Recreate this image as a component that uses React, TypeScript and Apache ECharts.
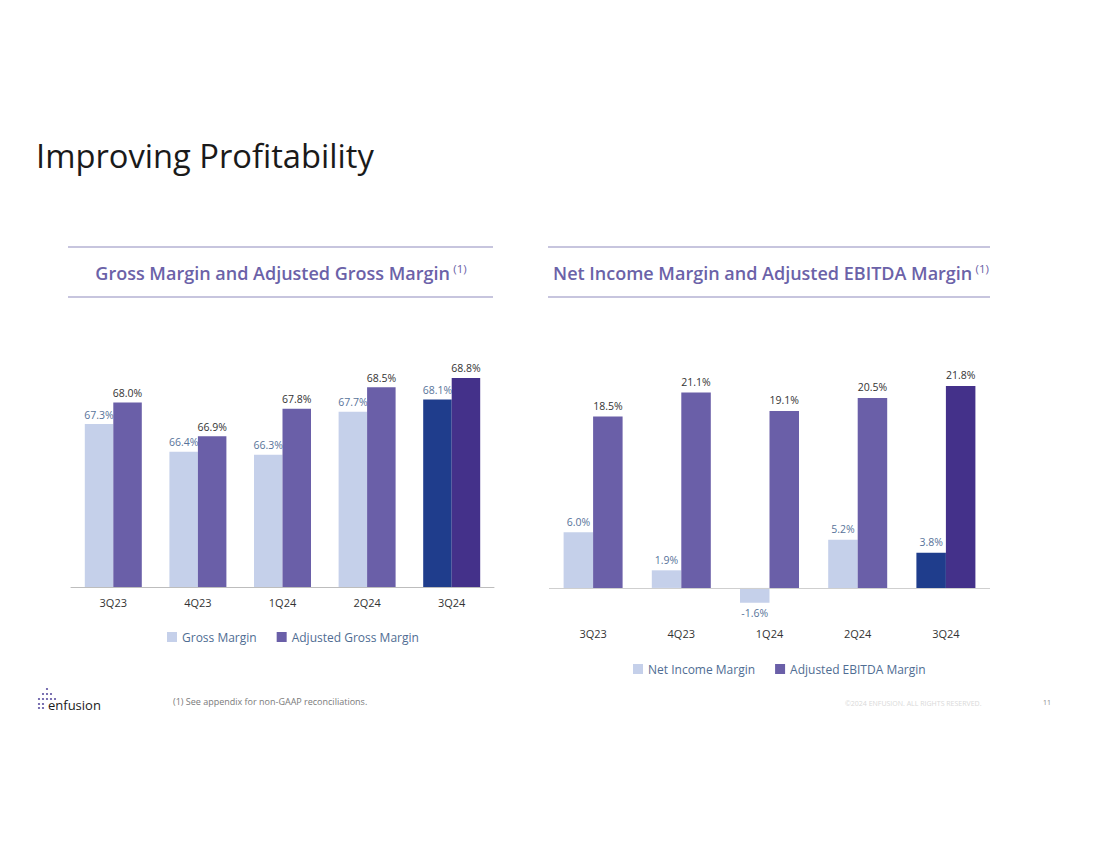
import React, { useEffect, useRef } from "react";
import * as echarts from "echarts";

const quarters = ["3Q23", "4Q23", "1Q24", "2Q24", "3Q24"];
const grossMargin = [67.3, 66.4, 66.3, 67.7, 68.1];
const adjGrossMargin = [68.0, 66.9, 67.8, 68.5, 68.8];
const netIncomeMargin = [6.0, 1.9, -1.6, 5.2, 3.8];
const adjEbitdaMargin = [18.5, 21.1, 19.1, 20.5, 21.8];

const FONT = "'Open Sans', 'Noto Sans', sans-serif";
const LIGHT = "#c5d0ea";
const PURPLE = "#6a5fa8";
const HL_LIGHT = "#1f3d8c";
const HL_PURPLE = "#44318a";
const LABEL_BLUE = "#58739a";
const HEADER = "#6b62a8";
const RULE = "#8f8bbd";

function colored(vals: number[], base: string, hl: string, negBottom = false) {
  return vals.map((v, i) => ({
    value: v,
    itemStyle: { color: i === vals.length - 1 ? hl : base },
    label: negBottom && v < 0 ? { position: "bottom" as const } : undefined,
  }));
}

export default function App() {
  const ref = useRef<HTMLDivElement>(null);
  useEffect(() => {
    document.body.style.margin = "0";
    const chart = echarts.init(ref.current!, null, { renderer: "svg" });
    const pct = (p: any) => Number(p.value).toFixed(1) + "%";
    const dots: any[] = [];
    const dotPos = [
      [47, 689], [47, 694], [43, 694], [51, 694], [39, 699], [43, 699], [47, 699], [51, 699], [55, 699],
      [43, 704], [39, 704], [43, 708], [39, 708],
    ];
    dotPos.forEach(([x, y]) =>
      dots.push({ type: "circle", shape: { cx: x, cy: y, r: 1.1 }, style: { fill: "#6a5fa8" } })
    );
    const headerRich = {
      a: { fontSize: 18, fontWeight: 600, fill: HEADER, color: HEADER, fontFamily: FONT, lineHeight: 22 },
      s: { fontSize: 11.5, fill: HEADER, color: HEADER, fontFamily: FONT, verticalAlign: "top", lineHeight: 22, padding: [0, 0, 10, 0] },
    };
    chart.setOption({
      animation: false,
      textStyle: { fontFamily: FONT },
      grid: [
        { left: 71, right: 1100 - 494, top: 341, bottom: 849 - 587 },
        { left: 549, right: 1100 - 990, top: 365.5, bottom: 849 - 625 },
      ],
      xAxis: [
        {
          type: "category",
          gridIndex: 0,
          data: quarters,
          axisLine: { show: true, lineStyle: { color: "#bdbdbd" } },
          axisTick: { show: false },
          axisLabel: { color: "#333", fontSize: 11, margin: 10, fontFamily: FONT },
        },
        {
          type: "category",
          gridIndex: 1,
          data: quarters,
          axisLine: { show: false, onZero: false },
          axisTick: { show: false },
          axisLabel: { color: "#333", fontSize: 11, margin: 3, fontFamily: FONT },
        },
      ],
      yAxis: [
        { type: "value", gridIndex: 0, min: 62, max: 70, show: false },
        { type: "value", gridIndex: 1, min: -4, max: 24, show: false },
      ],
      legend: [
        {
          data: ["Gross Margin", "Adjusted Gross Margin"],
          left: 162,
          top: 626,
          itemWidth: 10,
          itemHeight: 10,
          itemGap: 20,
          icon: "rect",
          textStyle: { color: "#4f6d93", fontSize: 12, fontFamily: FONT },
        },
        {
          data: ["Net Income Margin", "Adjusted EBITDA Margin"],
          left: 628,
          top: 658,
          itemWidth: 10,
          itemHeight: 10,
          itemGap: 20,
          icon: "rect",
          textStyle: { color: "#4f6d93", fontSize: 12, fontFamily: FONT },
        },
      ],
      series: [
        {
          name: "Gross Margin",
          type: "bar",
          xAxisIndex: 0,
          yAxisIndex: 0,
          barWidth: 28.5,
          barGap: "0%",
          itemStyle: { color: LIGHT },
          data: colored(grossMargin, LIGHT, HL_LIGHT),
          label: { show: true, position: "top", formatter: pct, color: LABEL_BLUE, fontSize: 10.5, distance: 4, fontFamily: FONT },
        },
        {
          name: "Adjusted Gross Margin",
          type: "bar",
          xAxisIndex: 0,
          yAxisIndex: 0,
          barWidth: 28.5,
          barGap: "0%",
          itemStyle: { color: PURPLE },
          data: colored(adjGrossMargin, PURPLE, HL_PURPLE),
          label: { show: true, position: "top", formatter: pct, color: "#333", fontSize: 10.5, distance: 4, fontFamily: FONT },
        },
        {
          name: "Net Income Margin",
          type: "bar",
          xAxisIndex: 1,
          yAxisIndex: 1,
          barWidth: 29.5,
          barGap: "0%",
          itemStyle: { color: LIGHT },
          data: colored(netIncomeMargin, LIGHT, HL_LIGHT, true),
          label: { show: true, position: "top", formatter: pct, color: LABEL_BLUE, fontSize: 10.5, distance: 5, fontFamily: FONT },
          markLine: {
            silent: true,
            symbol: ["none", "none"],
            label: { show: false },
            lineStyle: { color: "#cfcfcf", type: "solid", width: 1 },
            data: [{ yAxis: 0 }],
          },
        },
        {
          name: "Adjusted EBITDA Margin",
          type: "bar",
          xAxisIndex: 1,
          yAxisIndex: 1,
          barWidth: 29.5,
          barGap: "0%",
          itemStyle: { color: PURPLE },
          data: colored(adjEbitdaMargin, PURPLE, HL_PURPLE),
          label: { show: true, position: "top", formatter: pct, color: "#333", fontSize: 10.5, distance: 5, fontFamily: FONT },
        },
      ],
      graphic: [
        {
          type: "text",
          left: 36,
          top: 139,
          style: { text: "Improving Profitability", fill: "#1a1a1a", fontSize: 32.7, fontFamily: FONT },
        },
        { type: "line", shape: { x1: 68, y1: 247, x2: 493, y2: 247 }, style: { stroke: RULE, lineWidth: 1 } },
        { type: "line", shape: { x1: 68, y1: 297, x2: 493, y2: 297 }, style: { stroke: RULE, lineWidth: 1 } },
        { type: "line", shape: { x1: 548, y1: 247, x2: 990, y2: 247 }, style: { stroke: RULE, lineWidth: 1 } },
        { type: "line", shape: { x1: 548, y1: 297, x2: 990, y2: 297 }, style: { stroke: RULE, lineWidth: 1 } },
        {
          type: "text",
          x: 281,
          y: 273,
          style: {
            text: "{a|Gross Margin and Adjusted Gross Margin} {s|(1)}",
            align: "center",
            verticalAlign: "middle",
            rich: headerRich,
          },
        },
        {
          type: "text",
          x: 771,
          y: 273,
          style: {
            text: "{a|Net Income Margin and Adjusted EBITDA Margin} {s|(1)}",
            align: "center",
            verticalAlign: "middle",
            rich: headerRich,
          },
        },
        ...dots,
        {
          type: "text",
          left: 48,
          top: 698,
          style: { text: "enfusion", fill: "#1a1a1a", fontSize: 13, fontFamily: FONT },
        },
        {
          type: "text",
          left: 173,
          top: 697,
          style: { text: "(1) See appendix for non-GAAP reconciliations.", fill: "#7a7a7a", fontSize: 9, fontFamily: FONT },
        },
        {
          type: "text",
          left: 845,
          top: 700,
          style: { text: "©2024 ENFUSION. ALL RIGHTS RESERVED.", fill: "#d9d9d9", fontSize: 7, fontFamily: FONT },
        },
        {
          type: "text",
          left: 1043,
          top: 699,
          style: { text: "11", fill: "#888", fontSize: 7, fontFamily: FONT },
        },
      ],
    });
    return () => chart.dispose();
  }, []);
  return (
    <div
      ref={ref}
      style={{ position: "absolute", left: 0, top: 0, width: 1100, height: 849, background: "#fff" }}
    />
  );
}
